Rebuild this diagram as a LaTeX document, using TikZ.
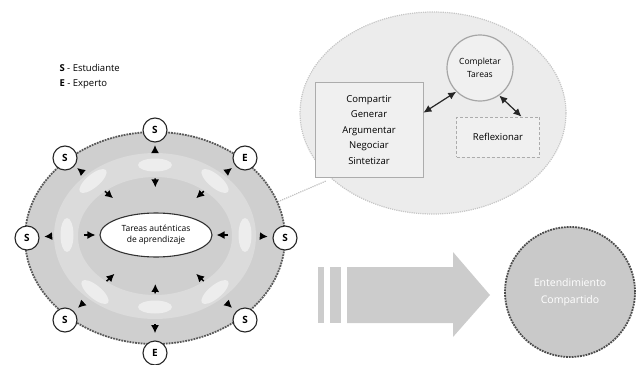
\documentclass[tikz,border=0pt]{standalone}
\usepackage{fontspec}
\setmainfont{Open Sans}
\usetikzlibrary{shapes.geometric,arrows.meta,calc}
\begin{document}
\begin{tikzpicture}[x=1pt,y=-1pt,
  part/.style={circle,draw=black!85,line width=1.1pt,fill=white,minimum size=24pt,inner sep=0pt,font=\bfseries\fontsize{10}{12}\selectfont},
  blob/.style={ellipse,fill=gray!14,minimum width=34pt,minimum height=13pt,inner sep=0pt},
  arr/.style={-{Latex[length=8pt,width=8pt]},line width=1.5pt,draw=black},
  darr/.style={{Latex[length=8pt,width=7.5pt]}-{Latex[length=8pt,width=7.5pt]},line width=1.2pt,draw=black!85},
  softbox/.style={draw=gray!65,line width=0.8pt,fill=gray!12,inner sep=0pt,align=center},
]
\useasboundingbox (0,0) rectangle (639,364);
% legend
\node[anchor=west,font=\fontsize{9.5}{11}\selectfont] (lgS) at (56,68) {\textbf{S} - Estudiante};
\node[anchor=west,font=\fontsize{9.5}{11}\selectfont] (lgE) at (56,84) {\textbf{E} - Experto};
% callout
\node[ellipse,fill=gray!15,draw=gray!45,densely dotted,line width=1.2pt,minimum width=266pt,minimum height=202pt] (call) at (433,113) {};
\coordinate (l1) at (268,206);
\coordinate (l2) at (326,181);
\draw[gray!50,densely dotted,line width=1.2pt] (l1) -- (l2);
% big ellipse
\node[ellipse,draw=black!65,densely dotted,line width=1.8pt,fill=gray!38,minimum width=260pt,minimum height=212pt,inner sep=0pt] (big) at (155,238) {};
\draw[gray!28,line width=24pt] (155,236) ellipse (89 and 71);
\node[blob] (bT) at (155,165) {};
\node[blob] (bB) at (155,307) {};
\node[blob,rotate=90] (bL) at (67,235) {};
\node[blob,rotate=90] (bR) at (245,235) {};
\node[blob,rotate=40] (bTL) at (93,181) {};
\node[blob,rotate=-40] (bTR) at (215,181) {};
\node[blob,rotate=-40] (bBL) at (95,292) {};
\node[blob,rotate=40] (bBR) at (215,292) {};
\node[ellipse,draw=black!80,line width=1.1pt,fill=white,minimum width=112pt,minimum height=44pt,inner sep=0pt,align=center,font=\fontsize{8.5}{10.5}\selectfont] (ctr) at (156,235) {Tareas auténticas\\de aprendizaje};
% participants
\node[part] (sT) at (155,130) {S};
\node[part] (sTL) at (65,158) {S};
\node[part] (eTR) at (245,158) {E};
\node[part] (sL) at (27,238) {S};
\node[part] (sR) at (285,238) {S};
\node[part] (sBL) at (65,320) {S};
\node[part] (sBR) at (245,320) {S};
\node[part] (eB) at (155,353) {E};
% arrows outward to participants
\foreach \b/\s in {bT/sT,bTL/sTL,bTR/eTR,bL/sL,bR/sR,bBL/sBL,bBR/sBR,bB/eB}{
  \draw[arr] ($(\b.center)!0.38!(\s.center)$) -- ($(\b.center)!0.57!(\s.center)$);
}
% arrows inward to the task
\foreach \b in {bT,bTL,bTR,bL,bR,bBL,bBR,bB}{
  \draw[arr] ($(\b.center)!0.19!(ctr.center)$) -- ($(\b.center)!0.32!(ctr.center)$);
}
% callout content
\node[softbox,minimum width=108pt,minimum height=95pt,font=\fontsize{9.5}{15.5}\selectfont] (share) at (369,130) {Compartir\\Generar\\Argumentar\\Negociar\\Sintetizar};
\node[circle,draw=gray!70,line width=1.2pt,fill=gray!12,minimum size=66pt,inner sep=0pt,align=center,font=\fontsize{8.5}{13}\selectfont] (comp) at (480,68) {Completar\\Tareas};
\node[softbox,densely dashed,minimum width=83pt,minimum height=40pt,font=\fontsize{9.5}{12}\selectfont] (refl) at (498,137) {Reflexionar};
\draw[darr] (comp.225) -- ($(share.north east)!0.32!(share.south east)$);
\draw[darr] (comp.-55) -- ($(refl.north west)!0.78!(refl.north east)$);
% big arrow
\fill[gray!40] (318,267) rectangle (324,323);
\fill[gray!40] (330,267) rectangle (341,323);
\fill[gray!40] (347,267) -- (453,267) -- (453,252) -- (490,295) -- (453,337) -- (453,323) -- (347,323) -- cycle;
% shared understanding
\node[circle,fill=gray!42,draw=black!70,densely dotted,line width=1.8pt,minimum size=130pt,inner sep=0pt,align=center,text=white,font=\fontsize{10.5}{17}\selectfont] (und) at (570,292) {Entendimiento\\Compartido};
\end{tikzpicture}
\end{document}
